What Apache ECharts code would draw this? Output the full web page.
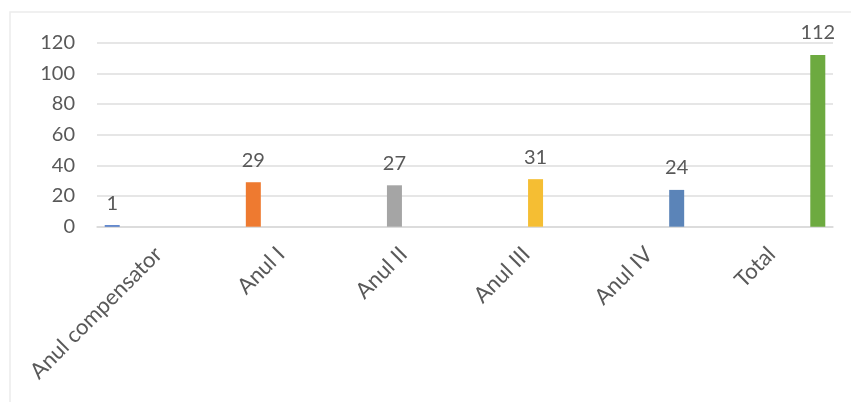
<!DOCTYPE html>
<html><head><meta charset="utf-8">
<script src="https://cdn.jsdelivr.net/npm/echarts@6/dist/echarts.min.js"></script>
<style>html,body{margin:0;padding:0;background:#fff}#c{width:851px;height:402px}</style>
</head><body><div id="c"></div>
<script>
const categories = ['Anul compensator', 'Anul I', 'Anul II', 'Anul III', 'Anul IV', 'Total'];
const values = [1, 29, 27, 31, 24, 112];
const colors = ['#4472C4', '#EE7A30', '#A5A5A5', '#F5BE33', '#5B84B8', '#6DAA40'];
const yTicks = [0, 20, 40, 60, 80, 100, 120];

const chart = echarts.init(document.getElementById('c'));
const series = categories.map((name, i) => ({
  name: name,
  type: 'bar',
  barWidth: 15,
  barGap: '23%',
  data: categories.map((c, j) => (j === i ? values[i] : null)),
  itemStyle: { color: colors[i] },
  label: {
    show: true, position: 'top', distance: 12,
    fontFamily: 'Lato', fontSize: 20, color: '#595959'
  }
}));

chart.setOption({
  backgroundColor: '#ffffff',
  animation: false,
  graphic: [{
    type: 'rect', shape: { x: 10, y: 12, width: 860, height: 420 },
    style: { fill: 'none', stroke: '#ececec', lineWidth: 1.5 }, silent: true
  }],
  grid: { left: 97, right: 18, top: 42.7, bottom: 175.3 },
  xAxis: {
    type: 'category', data: categories,
    axisLine: { show: true, lineStyle: { color: '#d9d9d9', width: 1.5 } },
    axisTick: { show: false },
    axisLabel: {
      rotate: 45, margin: 24, fontFamily: 'Lato', fontSize: 22, color: '#595959', interval: 0
    }
  },
  yAxis: {
    type: 'value', min: yTicks[0], max: yTicks[yTicks.length - 1], interval: 20,
    axisLine: { show: false }, axisTick: { show: false },
    splitLine: { lineStyle: { color: '#dedede', width: 1.5 } },
    axisLabel: { margin: 22, fontFamily: 'Lato', fontSize: 20, color: '#595959' }
  },
  series: series
});
</script></body></html>
